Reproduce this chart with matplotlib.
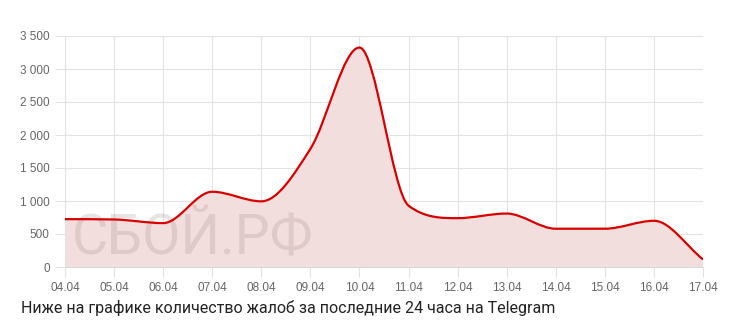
import matplotlib
matplotlib.use("Agg")
import matplotlib.pyplot as plt
from matplotlib import font_manager
from matplotlib.path import Path
from matplotlib.patches import PathPatch
import numpy as np

days = ["04.04", "05.04", "06.04", "07.04", "08.04", "09.04", "10.04",
        "11.04", "12.04", "13.04", "14.04", "15.04", "16.04", "17.04"]
reports = [725, 720, 665, 1140, 995, 1790, 3325,
           930, 740, 810, 580, 580, 700, 115]
yticks = [0, 500, 1000, 1500, 2000, 2500, 3000, 3500]
caption = "Ниже на графике количество жалоб за последние 24 часа на Telegram"
watermark = "СБОЙ.РФ"

W, H = 741, 320
L, R, T, B = 65, 703, 36, 267

fig = plt.figure(figsize=(W / 100, H / 100), dpi=100)
ax = fig.add_axes([L / W, (H - B) / H, (R - L) / W, (B - T) / H])

x = np.arange(len(days), dtype=float)
y = np.array(reports, dtype=float)
n = len(x)

# monotone cubic (same rules as chart.js cubicInterpolationMode: 'monotone')
delta = np.diff(y) / np.diff(x)
m = np.zeros(n)
for i in range(n):
    if i == 0:
        m[i] = delta[0]
    elif i == n - 1:
        m[i] = delta[-1]
    elif np.sign(delta[i - 1]) != np.sign(delta[i]):
        m[i] = 0
    else:
        m[i] = (delta[i - 1] + delta[i]) / 2
for i in range(n - 1):
    if abs(delta[i]) < 1e-9:
        m[i] = m[i + 1] = 0
        continue
    a = m[i] / delta[i]
    b = m[i + 1] / delta[i]
    sq = a * a + b * b
    if sq <= 9:
        continue
    tau = 3 / np.sqrt(sq)
    m[i] = a * tau * delta[i]
    m[i + 1] = b * tau * delta[i]

verts = [(x[0], y[0])]
codes = [Path.MOVETO]
for i in range(n - 1):
    dx = (x[i + 1] - x[i]) / 3
    verts += [(x[i] + dx, max(y[i] + dx * m[i], 0)),
              (x[i + 1] - dx, max(y[i + 1] - dx * m[i + 1], 0)),
              (x[i + 1], y[i + 1])]
    codes += [Path.CURVE4] * 3

line_path = Path(verts, codes)
fill_path = Path(verts + [(x[-1], 0), (x[0], 0), (x[0], y[0])],
                 codes + [Path.LINETO, Path.LINETO, Path.CLOSEPOLY])

# narrow font for the watermark if one is installed
wm_kw = dict(family="Roboto", fontsize=40)
for f in font_manager.fontManager.ttflist:
    if f.name == "Liberation Sans Narrow":
        wm_kw = dict(family="Liberation Sans Narrow", fontsize=44)
        break
    if f.name == "DejaVu Sans" and f.stretch == "condensed" and f.weight == "normal":
        wm_kw = dict(family="DejaVu Sans", fontstretch="condensed", fontsize=43)

ax.add_patch(PathPatch(fill_path, facecolor="#f3dede", edgecolor="none", zorder=1))
ax.text(7 / (R - L), 12 / (B - T), watermark, transform=ax.transAxes,
        color="#8a6a6a", alpha=0.18, zorder=2, **wm_kw)
ax.add_patch(PathPatch(line_path, facecolor="none", edgecolor="#d80000", lw=1.6, zorder=3))

ax.set_xlim(0, n - 1)
ax.set_ylim(0, 3500)
ax.set_xticks(x)
ax.set_xticklabels(days)
ax.set_yticks(yticks)
ax.set_yticklabels([f"{v:,}".replace(",", " ") for v in yticks])
ax.grid(True, color="#e3e3e3", lw=0.8, zorder=0)
ax.set_axisbelow(True)
for s in ax.spines.values():
    s.set_visible(False)
ax.spines["bottom"].set_visible(True)
ax.spines["bottom"].set_color("#d8d8d8")
ax.spines["left"].set_visible(True)
ax.spines["left"].set_color("#e3e3e3")
ax.tick_params(axis="both", colors="#e3e3e3", labelcolor="#666666", length=7,
               width=0.8, labelsize=8.5, pad=4)
for lab in ax.get_xticklabels() + ax.get_yticklabels():
    lab.set_family("Liberation Sans")

fig.text(21 / W, 1 - 313 / H, caption, fontsize=11.5, family="Roboto", color="#222222")

fig.savefig("out.png", dpi=100)
